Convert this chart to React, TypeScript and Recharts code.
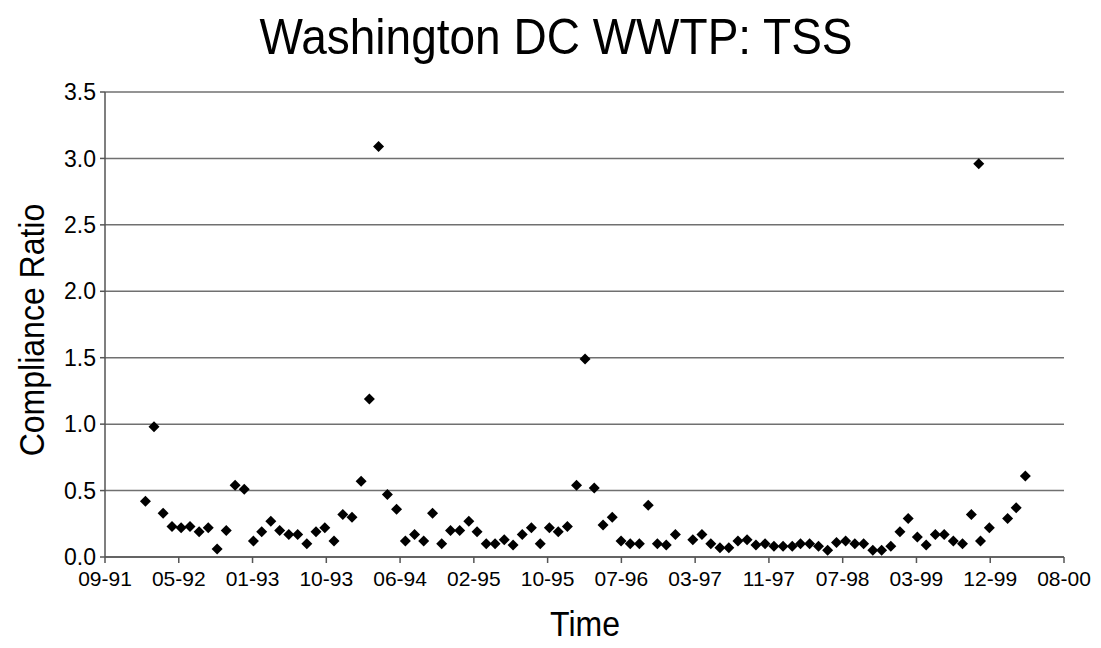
import React from 'react';
import { ScatterChart, Scatter, XAxis, YAxis, CartesianGrid } from 'recharts';

// monthly samples (first of month)
const sampleDates = [
    '1992-02-01', '1992-03-01', '1992-04-01', '1992-05-01', '1992-06-01', '1992-07-01',
    '1992-08-01', '1992-09-01', '1992-10-01', '1992-11-01', '1992-12-01', '1993-01-01',
    '1993-02-01', '1993-03-01', '1993-04-01', '1993-05-01', '1993-06-01', '1993-07-01',
    '1993-08-01', '1993-09-01', '1993-10-01', '1993-11-01', '1993-12-01', '1994-01-01',
    '1994-02-01', '1994-03-01', '1994-04-01', '1994-05-01', '1994-06-01', '1994-07-01',
    '1994-08-01', '1994-09-01', '1994-10-01', '1994-11-01', '1994-12-01', '1995-01-01',
    '1995-02-01', '1995-03-01', '1995-04-01', '1995-05-01', '1995-06-01', '1995-07-01',
    '1995-08-01', '1995-09-01', '1995-10-01', '1995-11-01', '1995-12-01', '1996-01-01',
    '1996-02-01', '1996-03-01', '1996-04-01', '1996-05-01', '1996-06-01', '1996-07-01',
    '1996-08-01', '1996-09-01', '1996-10-01', '1996-11-01', '1996-12-01', '1997-01-01',
    '1997-03-01', '1997-04-01', '1997-05-01', '1997-06-01', '1997-07-01', '1997-08-01',
    '1997-09-01', '1997-10-01', '1997-11-01', '1997-12-01', '1998-01-01', '1998-02-01',
    '1998-03-01', '1998-04-01', '1998-05-01', '1998-06-01', '1998-07-01', '1998-08-01',
    '1998-09-01', '1998-10-01', '1998-11-01', '1998-12-01', '1999-01-01', '1999-02-01',
    '1999-03-01', '1999-04-01', '1999-05-01', '1999-06-01', '1999-07-01', '1999-08-01',
    '1999-09-01', '1999-10-01', '1999-10-26', '1999-11-01', '1999-12-01', '2000-02-01',
    '2000-03-01', '2000-04-01',
];

const complianceRatio = [
    0.42, 0.98, 0.33, 0.23, 0.22, 0.23,
    0.19, 0.22, 0.06, 0.20, 0.54, 0.51,
    0.12, 0.19, 0.27, 0.20, 0.17, 0.17,
    0.10, 0.19, 0.22, 0.12, 0.32, 0.30,
    0.57, 1.19, 3.09, 0.47, 0.36, 0.12,
    0.17, 0.12, 0.33, 0.10, 0.20, 0.20,
    0.27, 0.19, 0.10, 0.10, 0.13, 0.09,
    0.17, 0.22, 0.10, 0.22, 0.19, 0.23,
    0.54, 1.49, 0.52, 0.24, 0.30, 0.12,
    0.10, 0.10, 0.39, 0.10, 0.09, 0.17,
    0.13, 0.17, 0.10, 0.07, 0.07, 0.12,
    0.13, 0.09, 0.10, 0.08, 0.08, 0.08,
    0.10, 0.10, 0.08, 0.05, 0.11, 0.12,
    0.10, 0.10, 0.05, 0.05, 0.08, 0.19,
    0.29, 0.15, 0.09, 0.17, 0.17, 0.12,
    0.10, 0.32, 2.96, 0.12, 0.22, 0.29,
    0.37, 0.61,
];

const timeTickLabels = ['09-91', '05-92', '01-93', '10-93', '06-94', '02-95', '10-95',
    '07-96', '03-97', '11-97', '07-98', '03-99', '12-99', '08-00'];
const ratioTicks = [0, 0.5, 1, 1.5, 2, 2.5, 3, 3.5];

// date axis starts mid-Sep 1991, major unit 250 days
const axisStart = Date.UTC(1991, 8, 17);
const tickStep = 250;

const toDays = (s: string) => {
    const [y, m, d] = s.split('-').map(Number);
    return (Date.UTC(y, m - 1, d) - axisStart) / 86400000;
};

const points = sampleDates.map((d, i) => ({ t: toDays(d), ratio: complianceRatio[i] }));
const timeTicks = timeTickLabels.map((_, i) => i * tickStep);

const FONT = '"Liberation Sans", Arial, Helvetica, sans-serif';

const Diamond = (props: any) => {
    const { cx, cy } = props;
    const r = 5.5;
    return (
        <polygon
            points={`${cx},${cy - r} ${cx + r},${cy} ${cx},${cy + r} ${cx - r},${cy}`}
            fill="#000"
        />
    );
};

const App: React.FC = () => {
    return (
        <div style={{ position: 'absolute', left: 0, top: 0, width: 1101, height: 648, background: '#fff', fontFamily: FONT }}>
            <div
                style={{
                    position: 'absolute', left: 556, top: 36, fontSize: 46, lineHeight: 1, color: '#000', whiteSpace: 'nowrap',
                    transform: 'translate(-50%, -50%) scaleY(1.1)',
                }}
            >
                Washington DC WWTP: TSS
            </div>
            <div
                style={{
                    position: 'absolute', left: 32, top: 330, fontSize: 32, lineHeight: 1, color: '#000', whiteSpace: 'nowrap',
                    transform: 'translate(-50%, -50%) rotate(-90deg) scaleY(1.1)',
                }}
            >
                Compliance Ratio
            </div>
            <div
                style={{
                    position: 'absolute', left: 585, top: 624, fontSize: 32, lineHeight: 1, color: '#000', whiteSpace: 'nowrap',
                    transform: 'translate(-50%, -50%) scaleY(1.1)',
                }}
            >
                Time
            </div>
            <ScatterChart width={1101} height={648} margin={{ top: 92, right: 37, bottom: 51, left: 45 }}>
                <CartesianGrid vertical={false} stroke="#707070" strokeWidth={1.5} />
                <XAxis
                    type="number"
                    dataKey="t"
                    domain={[0, tickStep * 13]}
                    ticks={timeTicks}
                    tickFormatter={(v: number) => timeTickLabels[Math.round(v / tickStep)]}
                    interval={0}
                    height={40}
                    tickSize={6}
                    tickMargin={8}
                    axisLine={{ stroke: '#555', strokeWidth: 1.5 }}
                    tickLine={{ stroke: '#555', strokeWidth: 1.5 }}
                    tick={{ fill: '#000', fontSize: 21, fontFamily: FONT }}
                />
                <YAxis
                    type="number"
                    dataKey="ratio"
                    domain={[0, 3.5]}
                    ticks={ratioTicks}
                    tickFormatter={(v: number) => v.toFixed(1)}
                    interval={0}
                    width={60}
                    tickSize={5}
                    tickMargin={4}
                    axisLine={{ stroke: '#555', strokeWidth: 1.5 }}
                    tickLine={{ stroke: '#555', strokeWidth: 1.5 }}
                    tick={{ fill: '#000', fontSize: 23, fontFamily: FONT }}
                />
                <Scatter data={points} shape={Diamond} isAnimationActive={false} />
            </ScatterChart>
        </div>
    );
};

export default App;
